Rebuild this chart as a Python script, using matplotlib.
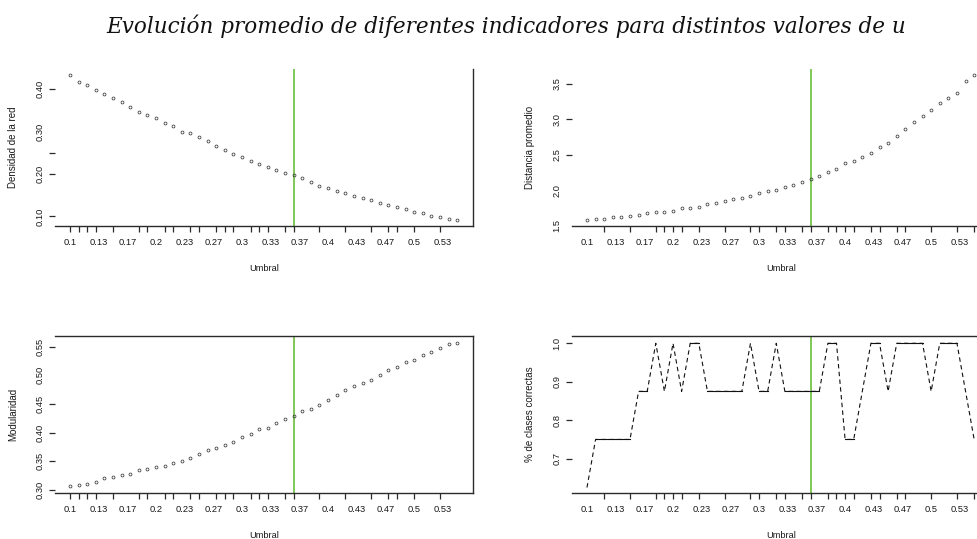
import numpy as np
import matplotlib
matplotlib.use("Agg")
import matplotlib.pyplot as plt
from matplotlib.ticker import FixedLocator, FixedFormatter

# umbral u = 0.10 ... 0.55
umbral = np.round(np.arange(0.10, 0.555, 0.01), 2)

densidad = [0.434, 0.418, 0.409, 0.397, 0.388, 0.379, 0.369, 0.357, 0.347, 0.339,
            0.331, 0.320, 0.313, 0.300, 0.296, 0.287, 0.277, 0.266, 0.257, 0.247,
            0.239, 0.231, 0.224, 0.217, 0.209, 0.203, 0.197, 0.190, 0.180, 0.172,
            0.166, 0.161, 0.154, 0.148, 0.144, 0.139, 0.131, 0.128, 0.122, 0.117,
            0.111, 0.107, 0.102, 0.099, 0.094, 0.091]

distancia = [1.580, 1.594, 1.603, 1.622, 1.631, 1.641, 1.655, 1.678, 1.697, 1.702,
             1.716, 1.758, 1.758, 1.772, 1.810, 1.829, 1.847, 1.876, 1.894, 1.923,
             1.960, 1.988, 2.007, 2.054, 2.082, 2.120, 2.157, 2.204, 2.256, 2.298,
             2.383, 2.420, 2.467, 2.533, 2.608, 2.674, 2.768, 2.862, 2.969, 3.049,
             3.134, 3.228, 3.298, 3.378, 3.547, 3.627]

modularidad = [0.306, 0.309, 0.311, 0.313, 0.320, 0.322, 0.326, 0.328, 0.334, 0.336,
               0.340, 0.342, 0.347, 0.351, 0.356, 0.362, 0.370, 0.373, 0.379, 0.384,
               0.393, 0.397, 0.406, 0.408, 0.416, 0.423, 0.429, 0.438, 0.442, 0.448,
               0.457, 0.465, 0.474, 0.481, 0.486, 0.492, 0.501, 0.509, 0.515, 0.523,
               0.526, 0.536, 0.540, 0.547, 0.554, 0.557]

aciertos = [0.625, 0.75, 0.75, 0.75, 0.75, 0.75, 0.875, 0.875, 1.0, 0.875,
            1.0, 0.875, 1.0, 1.0, 0.875, 0.875, 0.875, 0.875, 0.875, 1.0,
            0.875, 0.875, 1.0, 0.875, 0.875, 0.875, 0.875, 0.875, 1.0, 1.0,
            0.75, 0.75, 0.875, 1.0, 1.0, 0.875, 1.0, 1.0, 1.0, 1.0,
            0.875, 1.0, 1.0, 1.0, 0.875, 0.75]

u_elegido = 0.36

# etiquetas del eje x cada 1/30
xlab_txt = ["0.1", "0.13", "0.17", "0.2", "0.23", "0.27", "0.3", "0.33",
            "0.37", "0.4", "0.43", "0.47", "0.5", "0.53"]
xlab_pos = 0.1 + np.arange(len(xlab_txt)) / 30
# marcas visibles en cada columna
xtick_izq = [0.10, 0.11, 0.12, 0.13, 0.15, 0.18, 0.19, 0.21, 0.22, 0.24, 0.25,
             0.27, 0.28, 0.29, 0.31, 0.32, 0.33, 0.35, 0.36, 0.39, 0.42, 0.45,
             0.47, 0.48, 0.50, 0.53]
xtick_der = [0.12, 0.15, 0.18, 0.19, 0.20, 0.21, 0.23, 0.26, 0.29, 0.30, 0.32,
             0.33, 0.35, 0.36, 0.38, 0.39, 0.40, 0.41, 0.43, 0.44, 0.46, 0.47,
             0.50, 0.53, 0.55]

W, H = 978, 539
fig = plt.figure(figsize=(W / 100, H / 100), dpi=100)
plt.rcParams['font.family'] = ['Liberation Sans', 'DejaVu Sans']

txt = '#1a1a1a'
linea = '#2b2b2b'
verde = '#5cb82a'


def panel(left, top, right, bottom, ylim, ylab_txt, ylab_pos, ytick_pos,
          xtick_pos, ylabel, spines):
    ax = fig.add_axes([left / W, 1 - bottom / H, (right - left) / W, (bottom - top) / H])
    ax.set_xlim(0.0826, 0.5684)
    ax.set_ylim(*ylim)
    for s in ['left', 'right', 'top', 'bottom']:
        ax.spines[s].set_visible(s in spines)
        ax.spines[s].set_color(linea)
        ax.spines[s].set_linewidth(1.0)
    ax.xaxis.remove_overlapping_locs = False
    ax.yaxis.remove_overlapping_locs = False
    ax.xaxis.set_major_locator(FixedLocator(xlab_pos))
    ax.xaxis.set_major_formatter(FixedFormatter(xlab_txt))
    ax.xaxis.set_minor_locator(FixedLocator(xtick_pos))
    ax.yaxis.set_major_locator(FixedLocator(ylab_pos))
    ax.yaxis.set_major_formatter(FixedFormatter(ylab_txt))
    ax.yaxis.set_minor_locator(FixedLocator(ytick_pos))
    ax.tick_params(which='major', length=0, labelsize=6.7, labelcolor=txt)
    ax.tick_params(axis='x', which='major', pad=8.6)
    ax.tick_params(axis='y', which='major', pad=7.8, labelrotation=90)
    ax.tick_params(which='minor', length=4.5, width=0.9, color=linea)
    for lbl in ax.get_yticklabels():
        lbl.set_va('center')
    ax.set_xlabel('Umbral', fontsize=6.7, color=txt)
    ax.xaxis.set_label_coords(0.5, -42.3 / (bottom - top))
    ax.xaxis.label.set_va('center')
    ax.set_ylabel(ylabel, fontsize=7, color=txt)
    ax.yaxis.set_label_coords(-42 / (right - left), 0.5)
    ax.yaxis.label.set_va('center')
    ax.axvline(u_elegido, color=verde, lw=1.1, zorder=1)
    return ax


def puntos(ax, y):
    ax.plot(umbral, y, linestyle='none', marker='o', ms=2.1, mfc='none',
            mec='#3a3a3a', mew=0.55, zorder=3)


# Densidad de la red
ax1 = panel(55, 69, 473, 226, (0.0773, 0.4477),
            ["0.10", "0.20", "0.30", "0.40"], [0.10, 0.20, 0.30, 0.40],
            [0.10, 0.20, 0.25, 0.40], xtick_izq, 'Densidad de la red',
            ['bottom', 'right'])
puntos(ax1, densidad)

# Distancia promedio
ax2 = panel(572, 69, 990, 226, (1.5, 3.709),
            ["1.5", "2.0", "2.5", "3.0", "3.5"], [1.5, 2.0, 2.5, 3.0, 3.5],
            [2.5, 3.0, 3.5], xtick_der, 'Distancia promedio',
            ['bottom', 'right'])
puntos(ax2, distancia)

# Modularidad
ax3 = panel(55, 336, 473, 493.3, (0.294, 0.5686),
            ["0.30", "0.35", "0.40", "0.45", "0.50", "0.55"],
            [0.30, 0.35, 0.40, 0.45, 0.50, 0.55],
            [0.30, 0.35, 0.40, 0.45, 0.55], xtick_izq, 'Modularidad',
            ['bottom', 'right', 'top'])
puntos(ax3, modularidad)

# % de clases correctas
ax4 = panel(572, 336, 990, 493.3, (0.61, 1.019),
            ["0.7", "0.8", "0.9", "1.0"], [0.7, 0.8, 0.9, 1.0],
            [0.7, 0.8, 0.9, 1.0], xtick_der, '% de clases correctas',
            ['bottom', 'right', 'top'])
ax4.plot(umbral, aciertos, color='#111111', lw=0.8, linestyle=(0, (4, 3)), zorder=3)
# tramos planos
acc = np.array(aciertos)
for i in range(len(acc) - 1):
    if acc[i] == acc[i + 1]:
        ax4.plot(umbral[i:i + 2], acc[i:i + 2], color='#111111', lw=0.8, zorder=3)

fig.text(506 / W, 1 - 26 / H, 'Evolución promedio de diferentes indicadores para distintos valores de u',
         ha='center', va='center', fontsize=15.5, style='italic',
         family=['DejaVu Serif'], color='#111111')

fig.savefig('out.png', dpi=100)
